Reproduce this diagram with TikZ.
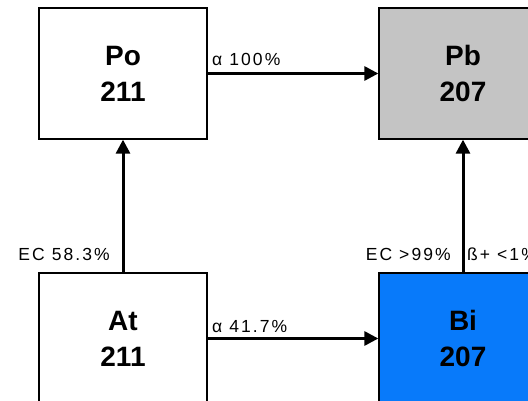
\documentclass[tikz,border=0pt]{standalone}
\usepackage{fontspec}
\setmainfont{Liberation Sans}
\newfontfamily\labelfont[LetterSpace=12]{Liberation Sans}
\usetikzlibrary{arrows.meta}
\definecolor{leadgray}{RGB}{196,196,196}
\definecolor{bismuthblue}{RGB}{8,122,250}
\tikzset{
  nuclide/.style={draw=black, line width=1.3pt, minimum width=168pt, minimum height=131pt,
    align=center, inner sep=0pt, font=\fontsize{28}{36}\selectfont\bfseries},
  decay/.style={line width=3pt, -{Triangle[length=14pt,width=14pt]}},
  branch/.style={inner sep=0pt, font=\fontsize{17.5}{19}\labelfont}
}
\begin{document}
\begin{tikzpicture}[x=1pt, y=-1pt]
  \useasboundingbox (0,0) rectangle (528,401);
  \clip (0,0) rectangle (528,401);
  \fill[white] (0,0) rectangle (528,401);
  % nuclides
  \node[nuclide] (Po) at (123,73.5) {Po\\211};
  \node[nuclide, fill=leadgray] (Pb) at (463,73.5) {Pb\\207};
  \node[nuclide] (At) at (123,338.5) {At\\211};
  \node[nuclide, fill=bismuthblue] (Bi) at (463,338.5) {Bi\\207};
  % decay paths
  \draw[decay] (Po) -- (Pb);
  \draw[decay] (At) -- (Po);
  \draw[decay] (At) -- (Bi);
  \draw[decay] (Bi) -- (Pb);
  % branching ratios
  \node[branch, anchor=base west] (l1) at (212,66) {α 100\%};
  \node[branch, anchor=base west] (l2) at (212,332) {α 41.7\%};
  \node[branch, anchor=base east] (l3) at (110,260) {EC 58.3\%};
  \node[branch, anchor=base east] (l4) at (451,260) {EC >99\%};
  \node[branch, anchor=base west] (l5) at (467,260) {ß+ <1\%};
\end{tikzpicture}
\end{document}
